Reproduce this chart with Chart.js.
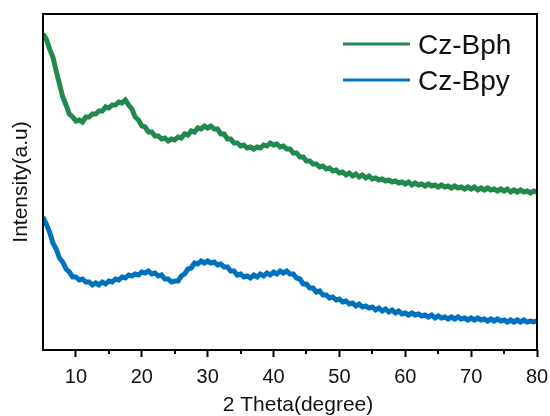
<!DOCTYPE html>
<html>
<head>
<meta charset="utf-8">
<script src="https://cdn.jsdelivr.net/npm/chart.js@4/dist/chart.umd.min.js"></script>
<style>
  html, body { margin: 0; padding: 0; background: #fff; }
  #wrap { width: 550px; height: 416px; }
</style>
</head>
<body>
<div id="wrap"><canvas id="c" width="550" height="416"></canvas></div>
<script>
// 2 Theta (degree), 0.5 degree steps from 5 to 80
const twoTheta = [];
for (let i = 0; i <= 150; i++) twoTheta.push(5 + i * 0.5);

// Intensity (a.u.)
const czBph = [
  316,311,301,293,279,266,253,245,236,233, 229,230,228,233,233,236,236,239,239,243,
  242,245,245,248,247,250,245,241,233,230, 224,223,218,218,214,214,211,212,209,211,
  210,213,212,216,215,219,218,222,221,224, 222,224,221,221,216,216,211,211,207,207,
  204,205,202,203,201,203,202,205,204,207, 205,206,203,204,201,201,197,197,193,193,
  189,189,186,186,183,184,181,182,179,180, 177,178,175,177,174,176,173,175,172,174,
  171,172,170,171,169,170,168,169,167,168, 166,168,165,167,165,166,164,166,164,165,
  163,165,163,164,162,164,162,163,161,163, 161,163,160,162,160,162,160,161,159,161,
  159,161,158,160,158,160,158,159,157,159, 158
];
const czBpy = [
  133,126,118,107,101,92,88,81,78,73, 73,70,71,68,68,65,67,65,68,66,
  69,68,71,70,73,72,75,74,76,75, 78,77,79,76,77,74,75,71,71,68,
  69,69,74,76,81,82,87,86,89,87, 89,87,88,85,86,83,83,79,79,75,
  76,73,74,72,75,73,76,74,77,75, 78,76,79,77,79,76,76,72,71,66,
  66,62,62,58,59,55,55,52,53,50, 51,48,49,46,47,44,46,43,44,42,
  43,40,42,39,41,38,40,37,39,36, 37,35,37,35,36,34,35,33,35,32,
  34,32,33,31,33,31,33,31,32,30, 32,30,32,30,31,29,31,29,31,29,
  30,28,30,28,30,28,30,28,29,28, 29
];
const seriesNames = ['Cz-Bph', 'Cz-Bpy'];
const xTickValues = [10, 20, 30, 40, 50, 60, 70, 80];
const xMinorTicks = [15, 25, 35, 45, 55, 65, 75];

const GREEN = 'rgb(33,137,77)';
const BLUE = 'rgb(0,114,189)';
const FONT = '"Liberation Sans", Arial, sans-serif';

const framePlugin = {
  id: 'frame',
  afterDraw(chart) {
    const ctx = chart.ctx;
    const a = chart.chartArea;
    const xs = chart.scales.x;
    ctx.save();
    // box
    ctx.strokeStyle = '#000';
    ctx.lineWidth = 2;
    ctx.strokeRect(a.left, a.top, a.right - a.left, a.bottom - a.top);
    // minor ticks
    ctx.lineWidth = 2;
    ctx.beginPath();
    xMinorTicks.forEach(v => {
      const px = Math.round(xs.getPixelForValue(v));
      ctx.moveTo(px, a.bottom);
      ctx.lineTo(px, a.bottom + 4);
    });
    ctx.stroke();
    // x-axis title
    ctx.fillStyle = '#111';
    ctx.font = '21px ' + FONT;
    ctx.textAlign = 'center';
    ctx.textBaseline = 'middle';
    ctx.fillText('2 Theta(degree)', 298, 405);
    // legend
    const items = chart.data.datasets;
    const ly = [44, 80];
    items.forEach((ds, i) => {
      ctx.strokeStyle = ds.borderColor;
      ctx.lineWidth = 3;
      ctx.beginPath();
      ctx.moveTo(343, ly[i]);
      ctx.lineTo(410, ly[i]);
      ctx.stroke();
      ctx.fillStyle = '#111';
      ctx.font = '28px ' + FONT;
      ctx.textAlign = 'left';
      ctx.textBaseline = 'alphabetic';
      ctx.fillText(ds.label, 418, ly[i] + 10);
    });
    ctx.restore();
  }
};

new Chart(document.getElementById('c'), {
  type: 'line',
  data: {
    labels: twoTheta,
    datasets: [
      { label: seriesNames[0], data: czBph, borderColor: GREEN, borderWidth: 5, pointRadius: 0, tension: 0, fill: false, borderJoinStyle: 'miter' },
      { label: seriesNames[1], data: czBpy, borderColor: BLUE, borderWidth: 5, pointRadius: 0, tension: 0, fill: false, borderJoinStyle: 'miter' }
    ]
  },
  options: {
    responsive: false,
    animation: false,
    devicePixelRatio: 1,
    layout: { padding: { top: 14, right: 13, left: 0, bottom: 0 } },
    plugins: { legend: { display: false }, tooltip: { enabled: false } },
    scales: {
      x: {
        type: 'linear',
        min: 5, max: 80,
        afterBuildTicks: s => { s.ticks = xTickValues.map(v => ({ value: v })); },
        afterFit: s => { s.height = 66; s.paddingLeft = 0; s.paddingRight = 0; },
        border: { display: false },
        grid: { display: true, drawOnChartArea: false, drawTicks: true, tickLength: 7, tickWidth: 2, tickColor: '#000' },
        ticks: { color: '#111', padding: 8, font: { family: FONT, size: 20 }, maxRotation: 0 },
        title: { display: false }
      },
      y: {
        min: 0, max: 336,
        afterFit: s => { s.width = 43; s.paddingTop = 0; s.paddingBottom = 0; },
        border: { display: false },
        grid: { display: false },
        ticks: { display: false },
        title: { display: true, text: 'Intensity(a.u)', color: '#111', font: { family: FONT, size: 21, lineHeight: 1 }, padding: { top: 11, bottom: 0 } }
      }
    }
  },
  plugins: [framePlugin]
});
</script>
</body>
</html>
